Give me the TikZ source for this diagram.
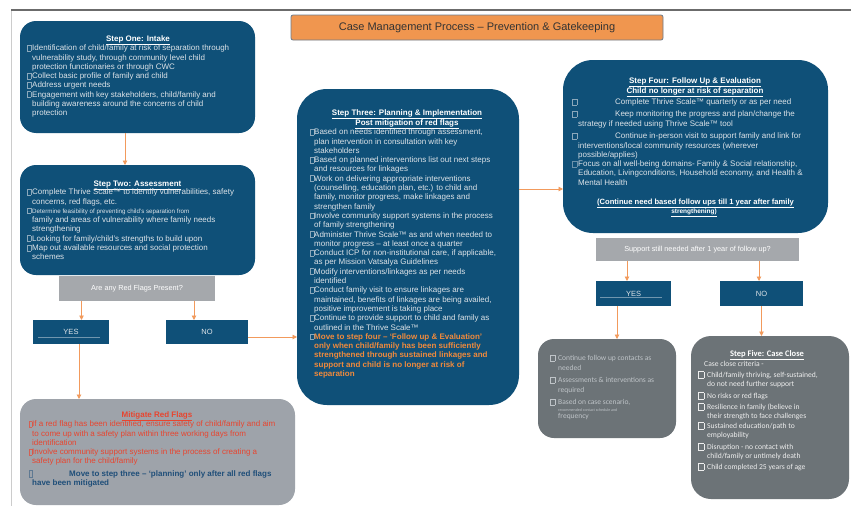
\documentclass[tikz,border=0pt]{standalone}
\usepackage{fontspec}
\setmainfont{Liberation Sans}
\newfontfamily\carl{Carlito}
\usetikzlibrary{arrows.meta}
\definecolor{bluebg}{HTML}{0F5078}
\definecolor{txtc}{HTML}{DDE3E8}
\definecolor{qgray}{HTML}{A5A8AC}
\definecolor{mitgray}{HTML}{9EA3AA}
\definecolor{dgray}{HTML}{6C7377}
\definecolor{arrc}{HTML}{F29A5C}
\definecolor{titleor}{HTML}{F0964F}
\definecolor{titlebd}{HTML}{6B7B8C}
\definecolor{titletx}{HTML}{333333}
\definecolor{redtx}{HTML}{E8452F}
\definecolor{dbluetx}{HTML}{1F4E79}
\definecolor{ortx}{HTML}{F08A3C}
\definecolor{g1tx}{HTML}{BFC4C8}
\definecolor{s5tx}{HTML}{EEEEEE}
\definecolor{framedark}{HTML}{6B6B6B}
\definecolor{framelight}{HTML}{CCCCCC}
\definecolor{yesln}{HTML}{7096AE}
\newcommand\bx[3][.]{{\color{#1}\setlength\fboxsep{0pt}\setlength\fboxrule{0.3pt}\fbox{\rule{0pt}{#3}\rule{#2}{0pt}}}}
\newcommand\bla{\makebox[5pt][l]{\bx[txtc!60!bluebg]{3pt}{5.5pt}}}
\newcommand\cla{\hspace*{5pt}}
\newcommand\blb{\makebox[4pt][l]{\bx[txtc!60!bluebg]{3pt}{5.5pt}}}
\newcommand\clb{\hspace*{4pt}}
\newcommand\blm{\makebox[3pt][l]{\bx[redtx!70!mitgray]{2.5pt}{5pt}}}
\newcommand\clm{\hspace*{3pt}}
\newcommand\blf{\makebox[9pt][l]{\raisebox{-1pt}{\bx{5.5pt}{6.5pt}}}}
\newcommand\clf{\hspace*{9pt}}
\newcommand\blg{\makebox[8pt][l]{\raisebox{-0.5pt}{\bx{4.5pt}{6pt}}}}
\newcommand\clg{\hspace*{8pt}}
\begin{document}
\begin{tikzpicture}[x=1pt,y=-1pt,
 box/.style={inner sep=0pt, outer sep=0pt},
 bluebox/.style={box, fill=bluebg},
 smallbox/.style={box, fill=bluebg, text=txtc, font=\fontsize{7.5}{9}\selectfont},
 qbox/.style={box, fill=qgray, text=white, font=\fontsize{7.3}{9}\selectfont},
 arr/.style={draw=arrc, line width=0.9pt, -{Triangle[length=4.5pt,width=4.5pt]}},
 body/.style={anchor=north west, align=left, inner sep=0pt, text=txtc, font=\fontsize{8}{9.3}\selectfont},
 head/.style={anchor=base, inner sep=0pt, text=white, font=\bfseries\fontsize{8}{9.3}\selectfont},
 yesline/.style={draw=yesln, line width=0.4pt}
]
\useasboundingbox (0,0) rectangle (851,506);
\fill[white] (0,0) rectangle (851,506);
\coordinate (fa) at (11,10);
\coordinate (fb) at (851,10);
\coordinate (fc) at (11,506);
\draw[framelight, line width=0.8pt] (fa) -- (fc);
\draw[framedark, line width=1.5pt] (fa) -- (fb);

% title
\node[box, fill=titleor, draw=titlebd, line width=0.8pt, rounded corners=2pt, minimum width=372pt, minimum height=25pt, text=titletx, font=\fontsize{11}{13}\selectfont] (title) at (477,27.5) {Case Management Process – Prevention \& Gatekeeping};

% step one
\node[bluebox, rounded corners=16pt, minimum width=235pt, minimum height=112pt] (s1) at (137.5,77) {};
\node[head] (s1h) at (138,41) {\underline{Step One: Intake}};
\node[body] (s1t) at (27,44.7) {\bla Identification of child/family at risk of separation through\\
\cla vulnerability study, through community level child\\
\cla protection functionaries or through CWC\\
\bla Collect basic profile of family and child\\
\bla Address urgent needs\\
\bla Engagement with key stakeholders, child/family and\\
\cla building awareness around the concerns of child\\
\cla protection};

% step two
\node[bluebox, rounded corners=16pt, minimum width=235pt, minimum height=110pt] (s2) at (137.5,220) {};
\node[head] (s2h) at (137.5,186) {\underline{Step Two: Assessment}};
\node[body] (s2t) at (27,188.7) {\bla Complete Thrive Scale™ to identify vulnerabilities, safety\\
\cla concerns, red flags, etc.\\
\bla {\fontsize{6.2}{7}\selectfont Determine feasibility of preventing child’s separation from}\\
\cla family and areas of vulnerability where family needs\\
\cla strengthening\\
\bla Looking for family/child’s strengths to build upon\\
\bla Map out available resources and social protection\\
\cla schemes};

% question 1
\node[qbox, minimum width=156pt, minimum height=25pt] (q1) at (137,288.5) {Are any Red Flags Present?};
\node[smallbox, minimum width=76pt, minimum height=24pt] (y1) at (71,332) {YES};
\node[smallbox, minimum width=82pt, minimum height=24pt] (n1) at (207,332) {NO};
\draw[yesline] ([xshift=-33pt,yshift=-5pt]y1.center) -- ([xshift=29pt,yshift=-5pt]y1.center);

% mitigate
\node[box, fill=mitgray, rounded corners=16pt, minimum width=275pt, minimum height=106pt] (mit) at (157.5,452) {};
\node[head, text=redtx] (mith) at (157,417) {\underline{Mitigate Red Flags}};
\node[body, text=redtx] (mitt) at (29,420.7) {\blm If a red flag has been identified, ensure safety of child/family and aim\\
\clm to come up with a safety plan within three working days from\\
\clm identification\\
\blm Involve community support systems in the process of creating a\\
\clm safety plan for the child/family\\[3pt]
\makebox[40pt][l]{\raisebox{-1pt}{\bx[dbluetx!50!mitgray]{3pt}{7pt}}}\textcolor{dbluetx}{\bfseries Move to step three – ‘planning’ only after all red flags}\\
\clm\textcolor{dbluetx}{\bfseries have been mitigated}};

% step three
\node[bluebox, rounded corners=30pt, minimum width=222pt, minimum height=316pt] (s3) at (408,247) {};
\node[head] (s3h) at (407,115) {\underline{Step Three: Planning \& Implementation}};
\node[head] (s3h2) at (407,125) {\underline{Post mitigation of red flags}};
\node[body] (s3t) at (310,128.7) {\blb Based on needs identified through assessment,\\
\clb plan intervention in consultation with key\\
\clb stakeholders\\
\blb Based on planned interventions list out next steps\\
\clb and resources for linkages\\
\blb Work on delivering appropriate interventions\\
\clb (counselling, education plan, etc.) to child and\\
\clb family, monitor progress, make linkages and\\
\clb strengthen family\\
\blb Involve community support systems in the process\\
\clb of family strengthening\\
\blb Administer Thrive Scale™ as and when needed to\\
\clb monitor progress – at least once a quarter\\
\blb Conduct ICP for non-institutional care, if applicable,\\
\clb as per Mission Vatsalya Guidelines\\
\blb Modify interventions/linkages as per needs\\
\clb identified\\
\blb Conduct family visit to ensure linkages are\\
\clb maintained, benefits of linkages are being availed,\\
\clb positive improvement is taking place\\
\blb Continue to provide support to child and family as\\
\clb outlined in the Thrive Scale™\\
\blb\textcolor{ortx}{\bfseries Move to step four – ‘Follow up \& Evaluation’}\\
\clb\textcolor{ortx}{\bfseries only when child/family has been sufficiently}\\
\clb\textcolor{ortx}{\bfseries strengthened through sustained linkages and}\\
\clb\textcolor{ortx}{\bfseries support and child is no longer at risk of}\\
\clb\textcolor{ortx}{\bfseries separation}};

% step four
\node[bluebox, rounded corners=30pt, minimum width=265pt, minimum height=173pt] (s4) at (695.5,146.5) {};
\node[head] (s4h) at (695,83) {\underline{Step Four: Follow Up \& Evaluation}};
\node[head] (s4h2) at (695,93) {\underline{Child no longer at risk of separation}};
\node[body] (s4t) at (572,98.7) {\makebox[43pt][l]{\bx[txtc!60!bluebg]{4pt}{5.5pt}}Complete Thrive Scale™ quarterly or as per need\\[2.7pt]
\makebox[43pt][l]{\bx[txtc!60!bluebg]{4pt}{5.5pt}}Keep monitoring the progress and plan/change the\\[0.7pt]
\hspace*{6pt}strategy if needed using Thrive Scale™ tool\\[2.7pt]
\makebox[43pt][l]{\bx[txtc!60!bluebg]{4pt}{5.5pt}}Continue in-person visit to support family and link for\\
\hspace*{6pt}interventions/local community resources (wherever\\
\hspace*{6pt}possible/applies)\\
\makebox[6pt][l]{\bx[txtc!45!bluebg]{4pt}{5.5pt}}Focus on all well-being domains- Family \& Social relationship,\\
\hspace*{6pt}Education, Livingconditions, Household economy, and Health \&\\
\hspace*{6pt}Mental Health};
\node[head, font=\bfseries\fontsize{7.6}{9}\selectfont] (s4f) at (695.5,204) {\underline{(Continue need based follow ups till 1 year after family}};
\node[head, font=\bfseries\fontsize{6.5}{8}\selectfont] (s4f2) at (694,213) {\underline{strengthening)}};

% question 2
\node[qbox, minimum width=203pt, minimum height=23pt] (q2) at (697.5,249.5) {Support still needed after 1 year of follow up?};
\node[smallbox, minimum width=75pt, minimum height=25pt] (y2) at (633.5,293.5) {YES};
\node[smallbox, minimum width=83pt, minimum height=25pt] (n2) at (761.5,293.5) {NO};
\draw[yesline] ([xshift=-33.5pt,yshift=-3.5pt]y2.center) -- ([xshift=28.5pt,yshift=-3.5pt]y2.center);

% grey box (continue follow up)
\node[box, fill=dgray, rounded corners=16pt, minimum width=138pt, minimum height=99pt] (g1) at (607,388.5) {};
\node[body, text=g1tx, font=\carl\fontsize{7.5}{10}\selectfont] (g1t) at (550,354.5) {\blg Continue follow up contacts as\\
\clg needed\\[2pt]
\blg Assessments \& interventions as\\
\clg required\\[2pt]
\blg Based on case scenario,\\[-3pt]
\clg{\fontsize{4}{4}\selectfont recommended contact schedule and}\\[-3pt]
\clg frequency};

% step five
\node[box, fill=dgray, rounded corners=20pt, minimum width=158pt, minimum height=163pt] (s5) at (770,417.5) {};
\node[head, font=\carl\bfseries\fontsize{8.5}{10}\selectfont] (s5h) at (767,356) {\underline{Step Five: Case Close}};
\node[body, text=s5tx, font=\carl\fontsize{7.6}{9}\selectfont] (s5t) at (698,360.7) {\hspace*{6pt}Case close criteria -\\[2pt]
\blf Child/family thriving, self-sustained,\\
\clf do not need further support\\[3pt]
\blf No risks or red flags\\[2pt]
\blf Resilience in family (believe in\\
\clf their strength to face challenges\\[1pt]
\blf Sustained education/path to\\
\clf employability\\[3pt]
\blf Disruption - no contact with\\
\clf child/family or untimely death\\[2pt]
\blf Child completed 25 years of age};

% connectors
\draw[arr] ([xshift=-12.5pt]s1.south) -- ([xshift=-12.5pt]s2.north);
\draw[arr] ([xshift=-55.5pt]q1.south) -- ([xshift=-55.5pt]q1.south |- y1.north);
\draw[arr] ([xshift=57pt]q1.south) -- ([xshift=57pt]q1.south |- n1.north);
\draw[arr] ([yshift=-5pt]n1.east) -- ([yshift=-5pt]n1.east -| s3.west);
\draw[arr] ([xshift=8pt]y1.south) -- ([xshift=8pt]y1.south |- mit.north);
\draw[arr] ([yshift=58pt]s3.east) -- ([yshift=58pt]s3.east -| s4.west);
\draw[arr] ([xshift=-70.5pt]q2.south) -- ([xshift=-70.5pt]q2.south |- y2.north);
\draw[arr] ([xshift=61.5pt]q2.south) -- ([xshift=61.5pt]q2.south |- n2.north);
\draw[arr] ([xshift=-16.5pt]y2.south) -- ([xshift=-16.5pt]y2.south |- g1.north);
\draw[arr] (n2.south) -- (n2.south |- s5.north);
\end{tikzpicture}
\end{document}
